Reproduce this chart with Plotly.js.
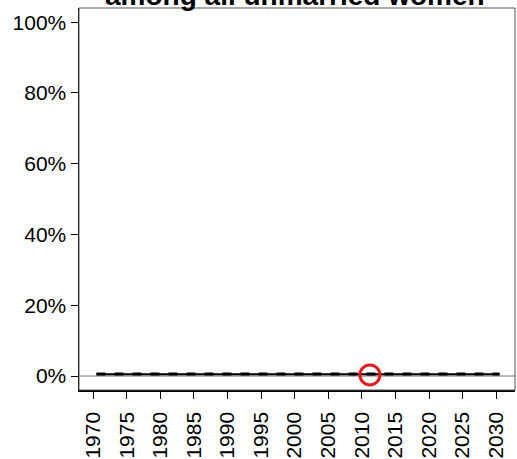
<!DOCTYPE html>
<html><head><meta charset="utf-8">
<script src="https://cdn.plot.ly/plotly-3.0.1.min.js"></script>
<style>html,body{margin:0;padding:0;background:#fff}</style>
</head><body><div id="chart" style="width:517px;height:459px"></div>
<script>
var years = [1970.5,1971.5,1972.5,1973.5,1974.5,1975.5,1976.5,1977.5,1978.5,1979.5,1980.5,1981.5,1982.5,1983.5,1984.5,1985.5,1986.5,1987.5,1988.5,1989.5,1990.5,1991.5,1992.5,1993.5,1994.5,1995.5,1996.5,1997.5,1998.5,1999.5,2000.5,2001.5,2002.5,2003.5,2004.5,2005.5,2006.5,2007.5,2008.5,2009.5,2010.5,2011.5,2012.5,2013.5,2014.5,2015.5,2016.5,2017.5,2018.5,2019.5,2020.5,2021.5,2022.5,2023.5,2024.5,2025.5,2026.5,2027.5,2028.5,2029.5,2030.5];
var median = [0.5,0.5,0.5,0.5,0.5,0.5,0.5,0.5,0.5,0.5,0.5,0.5,0.5,0.5,0.5,0.5,0.5,0.5,0.5,0.5,0.5,0.5,0.5,0.5,0.5,0.5,0.5,0.5,0.5,0.5,0.5,0.5,0.5,0.5,0.5,0.5,0.5,0.5,0.5,0.5,0.5,0.5,0.5,0.5,0.5,0.5,0.5,0.5,0.5,0.5,0.5,0.5,0.5,0.5,0.5,0.5,0.5,0.5,0.5,0.5,0.5];
var bound = [0.6,0.6,0.6,0.6,0.6,0.6,0.6,0.6,0.6,0.6,0.6,0.6,0.6,0.6,0.6,0.6,0.6,0.6,0.6,0.6,0.6,0.6,0.6,0.6,0.6,0.6,0.6,0.6,0.6,0.6,0.6,0.6,0.6,0.6,0.6,0.6,0.6,0.6,0.6,0.6,0.6,0.6,0.6,0.6,0.6,0.6,0.6,0.6,0.6,0.6,0.6,0.6,0.6,0.6,0.6,0.6,0.6,0.6,0.6,0.6,0.6];
var obsYear = [2011.2];
var obsValue = [0.3];
var xTicks = [1970,1975,1980,1985,1990,1995,2000,2005,2010,2015,2020,2025,2030];
var yTicks = [0,20,40,60,80,100];
var yLabels = ['0%','20%','40%','60%','80%','100%'];
var titleText = '<b>Unmet need for any method</b><br><b>among all unmarried women</b>';

var traces = [
  {x: years, y: median, mode: 'lines', line: {color: '#000', width: 2}, hoverinfo: 'skip'},
  {x: years, y: bound, mode: 'lines', line: {color: '#000', width: 3, dash: 'dash'}, hoverinfo: 'skip'},
  {x: obsYear, y: obsValue, mode: 'markers', marker: {size: 20, color: 'rgba(0,0,0,0)', line: {color: '#e31a1c', width: 3}}, cliponaxis: false}
];
var layout = {
  width: 517, height: 459,
  margin: {l: 79, r: 2, t: 8, b: 69},
  paper_bgcolor: '#fff', plot_bgcolor: '#fff',
  showlegend: false,
  font: {family: 'Liberation Sans, Arial, sans-serif', color: '#000'},
  annotations: [
    {text: titleText, xref: 'paper', yref: 'paper', x: 0.495, y: 0.987, xanchor: 'center', yanchor: 'bottom', showarrow: false, font: {size: 28, color: '#000'}}
  ],
  xaxis: {range: [1967.9, 2032.8], tickmode: 'array', tickvals: xTicks, ticktext: xTicks.map(String), tickangle: -90, ticks: 'outside', ticklen: 7, tickwidth: 1, tickcolor: '#000', ticklabelstandoff: 5, showgrid: false, zeroline: false, showline: true, linecolor: '#000', linewidth: 1.5, tickfont: {size: 21}},
  yaxis: {range: [-3.95, 104], tickvals: yTicks, ticktext: yLabels, ticks: 'outside', ticklen: 7, tickwidth: 1, tickcolor: '#000', showgrid: false, zeroline: false, showline: true, linecolor: '#000', linewidth: 1.5, tickfont: {size: 21}},
  shapes: [
    {type: 'rect', xref: 'paper', yref: 'paper', x0: 0, x1: 1, y0: 0, y1: 1, line: {color: '#555', width: 1}},
    {type: 'line', xref: 'paper', yref: 'y', x0: 0, x1: 1, y0: 0, y1: 0, line: {color: '#777', width: 1}, layer: 'below'}
  ]
};
Plotly.newPlot('chart', traces, layout, {displayModeBar: false, staticPlot: true});
</script></body></html>
